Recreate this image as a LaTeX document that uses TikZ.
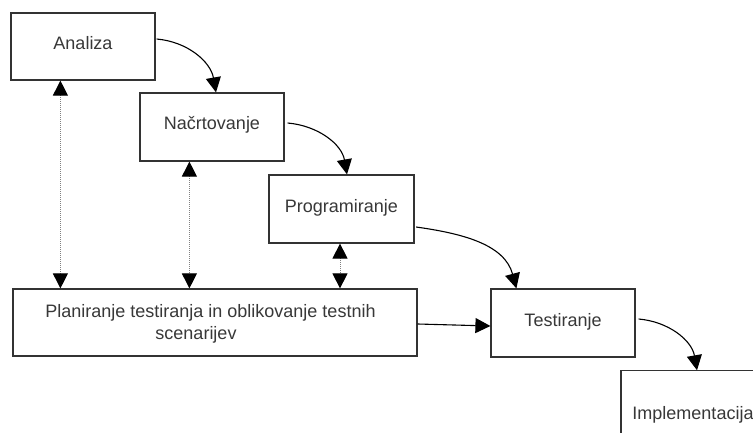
\documentclass[tikz,border=0pt]{standalone}
\usepackage{fontspec}
\setmainfont{Liberation Sans}
\usetikzlibrary{arrows.meta,calc}
\begin{document}
\begin{tikzpicture}[x=1pt,y=1pt,
  box/.style={draw=black!80, line width=1.2pt, fill=white, inner sep=0pt,
    text height=12.7pt, text depth=6.7pt, text=black!78,
    font=\fontsize{18}{22}\selectfont},
  txt/.style={inner sep=0pt, text=black!78, align=center, font=\fontsize{18}{22}\selectfont},
  flow/.style={line width=1.1pt, -{Triangle[length=15pt,width=15pt]}},
  dotarrow/.style={draw=black!50, dash pattern=on 1pt off 1pt, line width=0.9pt,
    {Triangle[length=15pt,width=15pt,color=black]}-{Triangle[length=15pt,width=15pt,color=black]}},
]
\useasboundingbox (0,0) rectangle (753,432);
\clip (0,0) rectangle (753,432);
\fill[white] (0,0) rectangle (753,432);

\node[box, minimum width=144pt, minimum height=67pt] (A) at (83,385.5) {Analiza};
\node[box, minimum width=144pt, minimum height=68pt] (N) at (212,305) {Načrtovanje};
\node[box, minimum width=145pt, minimum height=68pt] (P) at (341.5,223) {Programiranje};
\node[box, minimum width=404pt, minimum height=67pt] (plan) at (215,109.5) {};
\node[txt, anchor=north] (plantxt) at (210.5,128) {Planiranje testiranja in oblikovanje testnih\\scenarijev\hspace*{29pt}};
\node[box, minimum width=144pt, minimum height=68pt] (T) at (563,109) {Testiranje};
\node[box, minimum width=144pt, minimum height=92pt] (I) at (693,15.15) {Implementacija};

% flow arrows
\draw[flow] ([xshift=1pt,yshift=7.5pt]A.east) to[out=-5,in=100] ([xshift=4pt]N.north);
\draw[flow] ([xshift=3pt,yshift=4pt]N.east) to[out=-5,in=100] ([xshift=5.5pt]P.north);
\draw[flow] ([xshift=1.5pt,yshift=-18pt]P.east) to[out=-8,in=105] ([xshift=26pt]T.north west);
\draw[flow] ([xshift=3pt,yshift=4pt]T.east) to[out=-5,in=100] ([xshift=4pt]I.north);
\draw[flow] ([yshift=-1.5pt]plan.east) -- ([yshift=-3pt]T.west);

% dotted two-way arrows
\coordinate (c1) at ($(A.south west)+(50,0)$);
\coordinate (c2) at ($(N.south west)+(50,0)$);
\coordinate (c3) at ([xshift=-1.5pt]P.south);
\draw[dotarrow] (c1) -- (c1 |- plan.north);
\draw[dotarrow] (c2) -- (c2 |- plan.north);
\draw[dotarrow] (c3) -- (c3 |- plan.north);
\end{tikzpicture}
\end{document}
